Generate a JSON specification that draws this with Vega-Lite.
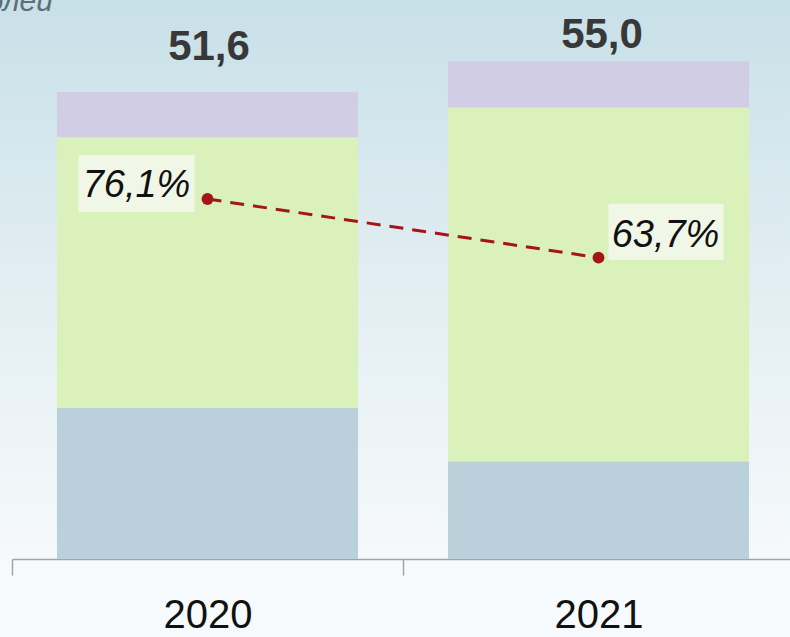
{
  "$schema": "https://vega.github.io/schema/vega-lite/v6.json",
  "width": 790,
  "height": 559,
  "autosize": {"type": "none"},
  "padding": {"left": 0, "top": 0, "right": 0, "bottom": 78},
  "background": "#f7fafc",
  "config": {
    "view": {
      "stroke": null,
      "fill": {"gradient": "linear", "x1": 0, "y1": 0, "x2": 0, "y2": 1,
        "stops": [{"offset": 0, "color": "#c8e0e8"}, {"offset": 0.55, "color": "#e4eff3"}, {"offset": 1, "color": "#f6f9fb"}]}
    }
  },
  "datasets": {
    "bars": [
      {"year": "2020", "seg": "Сегмент 1", "k": 1, "v": 16.7},
      {"year": "2020", "seg": "Сегмент 2", "k": 2, "v": 29.9},
      {"year": "2020", "seg": "Сегмент 3", "k": 3, "v": 5.0},
      {"year": "2021", "seg": "Сегмент 1", "k": 1, "v": 10.8},
      {"year": "2021", "seg": "Сегмент 2", "k": 2, "v": 39.1},
      {"year": "2021", "seg": "Сегмент 3", "k": 3, "v": 5.1}
    ],
    "pts": [
      {"year": "2020", "total": 51.6, "lbl": "51,6", "pct": 76.1, "plbl": "76,1%"},
      {"year": "2021", "total": 55.0, "lbl": "55,0", "pct": 63.7, "plbl": "63,7%"}
    ]
  },
  "resolve": {"scale": {"y": "independent"}, "axis": {"y": "independent"}},
  "layer": [
    {
      "data": {"name": "bars"},
      "mark": {"type": "bar"},
      "encoding": {
        "x": {
          "field": "year", "type": "nominal", "sort": null,
          "scale": {"range": [12, 794], "paddingInner": 0.23, "paddingOuter": 0.115},
          "axis": {
            "title": null, "labelAngle": 0, "bandPosition": 0.5,
            "tickOffset": -195.5, "labelOffset": 195.5,
            "domainColor": "#a3a3a3", "domainWidth": 1.5,
            "tickColor": "#a3a3a3", "tickWidth": 1.5, "tickSize": 16,
            "labelFont": "Liberation Sans", "labelFontSize": 40,
            "labelColor": "#111111", "labelPadding": 20, "labelBaseline": "top"
          }
        },
        "y": {"field": "v", "type": "quantitative", "stack": "zero",
          "scale": {"domain": [0, 61.77], "nice": false, "zero": true}, "axis": null},
        "color": {"field": "seg", "type": "nominal",
          "scale": {"domain": ["Сегмент 1", "Сегмент 2", "Сегмент 3"], "range": ["#bad1dc", "#daf1bb", "#d1cde4"]},
          "legend": null},
        "order": {"field": "k", "type": "quantitative"}
      }
    },
    {
      "data": {"name": "pts"},
      "transform": [{"filter": "datum.year == '2020'"}],
      "mark": {"type": "text", "font": "Liberation Sans", "fontStyle": "italic", "fontSize": 30, "color": "#5e6e76", "align": "right", "baseline": "alphabetic", "dx": -154.5, "dy": -81},
      "encoding": {
        "x": {"field": "year", "type": "nominal", "sort": null},
        "y": {"field": "total", "type": "quantitative", "scale": {"domain": [0, 61.77], "nice": false}, "axis": null},
        "text": {"value": "млрд рублей"}
      }
    },
    {
      "data": {"name": "pts"},
      "transform": [{"filter": "datum.year == '2020'"}],
      "mark": {"type": "text", "font": "Liberation Sans", "fontWeight": "bold", "fontSize": 42, "color": "#383838", "baseline": "alphabetic", "dy": -32, "dx": 1.5},
      "encoding": {
        "x": {"field": "year", "type": "nominal", "sort": null},
        "y": {"field": "total", "type": "quantitative", "scale": {"domain": [0, 61.77], "nice": false}, "axis": null},
        "text": {"field": "lbl"}
      }
    },
    {
      "data": {"name": "pts"},
      "transform": [{"filter": "datum.year == '2021'"}],
      "mark": {"type": "text", "font": "Liberation Sans", "fontWeight": "bold", "fontSize": 42, "color": "#383838", "baseline": "alphabetic", "dy": -13, "dx": 3.5},
      "encoding": {
        "x": {"field": "year", "type": "nominal", "sort": null},
        "y": {"field": "total", "type": "quantitative", "scale": {"domain": [0, 61.77], "nice": false}, "axis": null},
        "text": {"field": "lbl"}
      }
    },
    {
      "data": {"name": "pts"},
      "transform": [{"filter": "datum.year == '2020'"}],
      "mark": {"type": "tick", "orient": "horizontal", "size": 116, "thickness": 57, "color": "#f1f7e7", "opacity": 1, "xOffset": -71, "yOffset": -15.5},
      "encoding": {
        "x": {"field": "year", "type": "nominal", "sort": null},
        "y": {"field": "pct", "type": "quantitative", "scale": {"domain": [0, 118.16], "nice": false}, "axis": null}
      }
    },
    {
      "data": {"name": "pts"},
      "transform": [{"filter": "datum.year == '2021'"}],
      "mark": {"type": "tick", "orient": "horizontal", "size": 115, "thickness": 56, "color": "#f1f7e7", "opacity": 1, "xOffset": 67.5, "yOffset": -26},
      "encoding": {
        "x": {"field": "year", "type": "nominal", "sort": null},
        "y": {"field": "pct", "type": "quantitative", "scale": {"domain": [0, 118.16], "nice": false}, "axis": null}
      }
    },
    {
      "data": {"name": "pts"},
      "mark": {"type": "line", "color": "#a31518", "strokeWidth": 3, "strokeDash": [14, 9]},
      "encoding": {
        "x": {"field": "year", "type": "nominal", "sort": null},
        "y": {"field": "pct", "type": "quantitative", "scale": {"domain": [0, 118.16], "nice": false}, "axis": null}
      }
    },
    {
      "data": {"name": "pts"},
      "mark": {"type": "circle", "color": "#a31518", "size": 140, "opacity": 1},
      "encoding": {
        "x": {"field": "year", "type": "nominal", "sort": null},
        "y": {"field": "pct", "type": "quantitative", "scale": {"domain": [0, 118.16], "nice": false}, "axis": null}
      }
    },
    {
      "data": {"name": "pts"},
      "transform": [{"filter": "datum.year == '2020'"}],
      "mark": {"type": "text", "font": "Liberation Sans", "fontStyle": "italic", "fontSize": 38, "color": "#111111", "baseline": "alphabetic", "dx": -71, "dy": -2},
      "encoding": {
        "x": {"field": "year", "type": "nominal", "sort": null},
        "y": {"field": "pct", "type": "quantitative", "scale": {"domain": [0, 118.16], "nice": false}, "axis": null},
        "text": {"field": "plbl"}
      }
    },
    {
      "data": {"name": "pts"},
      "transform": [{"filter": "datum.year == '2021'"}],
      "mark": {"type": "text", "font": "Liberation Sans", "fontStyle": "italic", "fontSize": 38, "color": "#111111", "baseline": "alphabetic", "dx": 67, "dy": -11},
      "encoding": {
        "x": {"field": "year", "type": "nominal", "sort": null},
        "y": {"field": "pct", "type": "quantitative", "scale": {"domain": [0, 118.16], "nice": false}, "axis": null},
        "text": {"field": "plbl"}
      }
    }
  ]
}
